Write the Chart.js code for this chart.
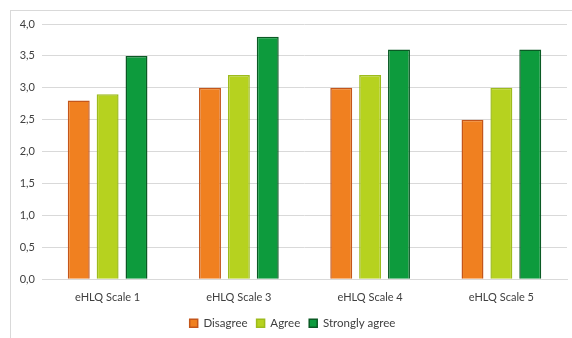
<!DOCTYPE html>
<html>
<head>
<meta charset="utf-8">
<script src="https://cdn.jsdelivr.net/npm/chart.js@4/dist/chart.umd.min.js"></script>
<style>
  body { margin: 0; background: #fff; }
  .wrap { position: relative; width: 572px; height: 338px; }
  .frame {
    position: absolute; left: 10px; top: 10px; width: 600px; height: 400px;
    border-left: 1px solid #d9d9d9; border-top: 1px solid #d9d9d9;
    pointer-events: none;
  }
</style>
</head>
<body>
<div class="wrap">
  <canvas id="chart" width="572" height="338"></canvas>
  <div class="frame"></div>
</div>
<script>
  // data
  const scales = ["eHLQ Scale 1", "eHLQ Scale 3", "eHLQ Scale 4", "eHLQ Scale 5"];
  const disagree = [2.8, 3.0, 3.0, 2.5];
  const agree = [2.9, 3.2, 3.2, 3.0];
  const stronglyAgree = [3.5, 3.8, 3.6, 3.6];

  const fontFamily = "Lato, 'Open Sans', sans-serif";
  const textColor = "#404040";

  new Chart(document.getElementById("chart"), {
    type: "bar",
    data: {
      labels: scales,
      datasets: [
        { label: "Disagree", data: disagree, backgroundColor: "#f08020", borderColor: "#c4561a", borderWidth: 1.5 },
        { label: "Agree", data: agree, backgroundColor: "#b6d21f", borderColor: "#9dbb1c", borderWidth: 1.5 },
        { label: "Strongly agree", data: stronglyAgree, backgroundColor: "#0d9b3d", borderColor: "#0a5a24", borderWidth: 1.5 }
      ]
    },
    options: {
      responsive: false,
      animation: false,
      categoryPercentage: 0.66,
      barPercentage: 0.76,
      layout: { padding: { top: 24, right: 5, left: 18, bottom: -1 } },
      plugins: {
        tooltip: { enabled: false },
        legend: {
          position: "bottom",
          labels: {
            boxWidth: 8, boxHeight: 8, padding: 9,
            color: textColor,
            font: { family: fontFamily, size: 11.5 }
          }
        }
      },
      scales: {
        x: {
          grid: { display: false },
          border: { color: "#d9d9d9" },
          ticks: { color: textColor, font: { family: fontFamily, size: 11 }, padding: 4 }
        },
        y: {
          min: 0, max: 4,
          afterFit: (axis) => { axis.width = 24; },
          grid: { color: "#d9d9d9", drawTicks: false },
          border: { display: false },
          ticks: {
            stepSize: 0.5,
            padding: 7,
            color: textColor,
            font: { family: fontFamily, size: 11 },
            callback: (v) => v.toFixed(1).replace(".", ",")
          }
        }
      }
    }
  });
</script>
</body>
</html>
